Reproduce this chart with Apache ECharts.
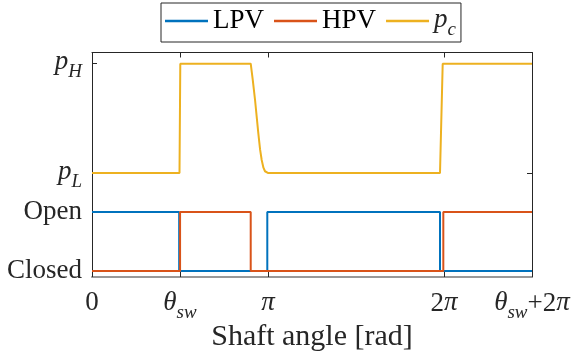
<!DOCTYPE html>
<html>
<head>
<meta charset="utf-8">
<script src="https://cdn.jsdelivr.net/npm/echarts@6/dist/echarts.min.js"></script>
<style>
  html, body { margin: 0; padding: 0; background: #fff; }
  #chart { width: 574px; height: 353px; }
</style>
</head>
<body>
<div id="chart"></div>
<script>
// values (x in rad, y in chart units: Closed=0, Open=1)
const thetaSw = 1.5708
const xMax = 7.854
const pL = 1.66
const pH = 3.51

const xTicks = [0, thetaSw, 3.1416, 6.2832, xMax]
const xTickLabels = ['0', '{i|θ}{s|sw}', '{i|π}', '2{i|π}', '{i|θ}{s|sw}+2{i|π}']
const yTicks = [0, 1, pL, pH]
const yTickLabels = ['Closed', 'Open', '{i|p}{s|L}', '{i|p}{s|H}']

const lpvData = [[0, 1], [1.556, 1], [1.556, 0], [3.129, 0], [3.129, 1], [6.212, 1], [6.212, 0], [xMax, 0]]
const hpvData = [[0, 0], [1.572, 0], [1.572, 1], [2.833, 1], [2.833, 0], [6.271, 0], [6.271, 1], [xMax, 1]]
const pcData = [
  [0, pL], [1.562, pL], [1.576, pH], [2.833, pH], [2.869, 3.24], [2.910, 2.90],
  [2.969, 2.33], [3.000, 2.06], [3.029, 1.88], [3.060, 1.75], [3.088, 1.69], [3.120, 1.665], [3.147, pL],
  [6.212, pL], [6.260, pH], [xMax, pH]
]

const serif = 'Liberation Serif'
const ink = '#262626'
const mathRich = {
  i: { fontFamily: serif, fontStyle: 'italic', fontSize: 27, color: ink, verticalAlign: 'top', lineHeight: 30 },
  s: { fontFamily: serif, fontStyle: 'italic', fontSize: 19, color: ink, verticalAlign: 'top', lineHeight: 22, padding: [14, 0, 0, 0] }
}

function labelFor(vals, labels, v) {
  let best = 0
  vals.forEach((t, i) => {
    if (Math.abs(t - v) < Math.abs(vals[best] - v)) best = i
  })
  return labels[best]
}

const chart = echarts.init(document.getElementById('chart'))
chart.setOption({
  animation: false,
  textStyle: { fontFamily: serif, color: ink },
  legend: {
    left: 161,
    top: 3,
    padding: [3, 5, 3, 4],
    borderColor: '#262626',
    borderWidth: 1,
    icon: 'rect',
    itemWidth: 43,
    itemHeight: 2.5,
    itemGap: 10,
    textStyle: { fontFamily: serif, fontSize: 27, color: '#000', rich: mathRich },
    formatter(name) {
      return name === 'pc' ? '{i|p}{s|c}' : name
    },
    data: ['LPV', 'HPV', 'pc']
  },
  grid: { left: 92, right: 42, top: 52.5, bottom: 76, containLabel: false, outerBoundsMode: 'none' },
  xAxis: [{
    type: 'value',
    min: 0,
    max: xMax,
    name: 'Shaft angle [rad]',
    nameLocation: 'middle',
    nameGap: 45,
    nameMoveOverlap: false,
    nameTextStyle: { fontFamily: serif, fontSize: 30, color: ink },
    axisLine: { onZero: false, lineStyle: { color: '#999', width: 2 } },
    axisTick: { inside: true, length: 5, customValues: xTicks, lineStyle: { color: ink } },
    axisLabel: {
      customValues: xTicks,
      margin: 12,
      fontFamily: serif,
      fontSize: 27,
      color: ink,
      rich: mathRich,
      formatter(v) {
        return labelFor(xTicks, xTickLabels, v)
      }
    },
    splitLine: { show: false }
  }, {
    type: 'value',
    position: 'top',
    min: 0,
    max: xMax,
    axisLine: { show: true, onZero: false, lineStyle: { color: ink } },
    axisTick: { inside: true, length: 5, customValues: xTicks, lineStyle: { color: ink } },
    axisLabel: { show: false },
    splitLine: { show: false }
  }],
  yAxis: [{
    type: 'value',
    min: -0.1,
    max: 3.7,
    axisLine: { show: true, onZero: false, lineStyle: { color: ink } },
    axisTick: { show: true, inside: true, length: 5, customValues: [pL, pH], lineStyle: { color: ink } },
    axisLabel: {
      customValues: yTicks,
      margin: 10,
      fontFamily: serif,
      fontSize: 27,
      color: ink,
      rich: mathRich,
      formatter(v) {
        return labelFor(yTicks, yTickLabels, v)
      }
    },
    splitLine: { show: false }
  }, {
    type: 'value',
    position: 'right',
    min: -0.1,
    max: 3.7,
    axisLine: { show: true, onZero: false, lineStyle: { color: ink } },
    axisTick: { show: true, inside: true, length: 5, customValues: [pL, pH], lineStyle: { color: ink } },
    axisLabel: { show: false },
    splitLine: { show: false }
  }],
  series: [{
    name: 'LPV',
    type: 'line',
    symbol: 'none',
    lineStyle: { color: '#0072BD', width: 2 },
    itemStyle: { color: '#0072BD' },
    data: lpvData
  }, {
    name: 'HPV',
    type: 'line',
    symbol: 'none',
    lineStyle: { color: '#D95319', width: 2 },
    itemStyle: { color: '#D95319' },
    data: hpvData
  }, {
    name: 'pc',
    type: 'line',
    symbol: 'none',
    lineStyle: { color: '#EDB120', width: 2 },
    itemStyle: { color: '#EDB120' },
    data: pcData
  }]
})
</script>
</body>
</html>
